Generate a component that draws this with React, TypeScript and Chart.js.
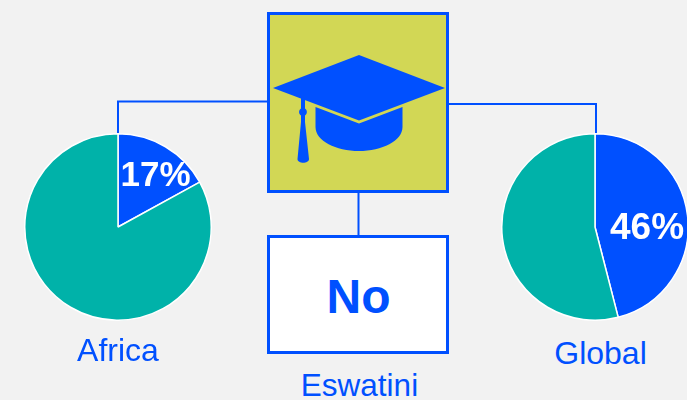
import React, { useEffect, useRef } from "react";
import { Chart, registerables } from "chart.js";

Chart.register(...registerables);

const regions = ["Africa", "Global"];
const africaValues = [17, 83];
const globalValues = [46, 54];
const sliceLabels = ["Yes", "No"];
const countryName = "Eswatini";
const countryAnswer = "No";

const BLUE = "#0050ff";
const TEAL = "#00b2a9";
const YELLOW = "#d2d755";
const BG = "#f2f2f2";
const FONT = '"Liberation Sans", Arial, sans-serif';

const percentLabel = {
  id: "percentLabel",
  afterDatasetsDraw(chart: any, _a: any, opts: any) {
    const arc = chart.getDatasetMeta(0).data[0];
    const value = chart.data.datasets[0].data[0];
    const { ctx } = chart;
    ctx.save();
    ctx.fillStyle = "#ffffff";
    ctx.font = `bold ${opts.size}px ${FONT}`;
    ctx.textAlign = "center";
    ctx.textBaseline = "middle";
    ctx.fillText(`${value}%`, arc.x + opts.dx, arc.y + opts.dy);
    ctx.restore();
  },
};

function Pie({ values, left, dx, dy, size, title }: { values: number[]; left: number; dx: number; dy: number; size: number; title: string }) {
  const ref = useRef<HTMLCanvasElement>(null);
  useEffect(() => {
    const chart = new Chart(ref.current!, {
      type: "pie",
      data: {
        labels: sliceLabels,
        datasets: [{ data: values, backgroundColor: [BLUE, TEAL], borderColor: "#ffffff", borderWidth: 1.5 }],
      },
      options: {
        animation: false,
        responsive: false,
        layout: { padding: 0 },
        plugins: { legend: { display: false }, tooltip: { enabled: false }, percentLabel: { dx, dy, size } } as any,
      },
      plugins: [percentLabel],
    });
    return () => chart.destroy();
  }, []);
  return (
    <canvas
      ref={ref}
      width={188}
      height={188}
      aria-label={title}
      style={{ position: "absolute", left, top: 133, width: 188, height: 188 }}
    />
  );
}

const textStyle = (cx: number, cy: number, size: number): React.CSSProperties => ({
  position: "absolute",
  left: cx - 100,
  width: 200,
  top: cy - 30,
  height: 60,
  lineHeight: "60px",
  textAlign: "center",
  fontFamily: FONT,
  fontSize: size,
  color: BLUE,
});

export default function App() {
  useEffect(() => {
    document.body.style.margin = "0";
    document.body.style.overflow = "hidden";
  }, []);
  return (
    <div style={{ position: "relative", width: 687, height: 400, background: BG, overflow: "hidden" }}>
      <svg width={687} height={400} style={{ position: "absolute", left: 0, top: 0 }}>
        <g fill="none" stroke={BLUE} strokeWidth={2}>
          <path d="M268 101.500H118V134" />
          <path d="M448 104H596V134" />
          <path d="M358.500 193V236" />
        </g>
        <rect x={268.5} y={13.5} width={179} height={178} fill={YELLOW} stroke={BLUE} strokeWidth={3} />
        <rect x={268.5} y={236.5} width={179} height={116} fill="#ffffff" stroke={BLUE} strokeWidth={3} />
        <g fill={BLUE}>
          <path d="M359 55L445 88L359 120.500L273 88Z" />
          <path d="M315.500 107L359 123.500L402.500 107V127C402.500 141 382 151 359 151C336 151 315.500 141 315.500 127Z" />
          <path d="M301 97L305 98.500V108.500C307.500 110 307.500 114 305 115.500V122L309 159C309 164 297.500 164 297.500 159L301 122V115.500C298.500 114 298.500 110 301 108.500Z" />
        </g>
      </svg>
      <Pie values={africaValues} left={24} dx={37.5} dy={-51} size={35} title={regions[0]} />
      <Pie values={globalValues} left={501} dx={52} dy={2} size={37} title={regions[1]} />
      <div style={textStyle(118, 350, 32)}>{regions[0]}</div>
      <div style={textStyle(600.5, 353, 32)}>{regions[1]}</div>
      <div style={textStyle(359.5, 385, 31.5)}>{countryName}</div>
      <div style={{ ...textStyle(358.5, 297, 48), fontWeight: 700 }}>{countryAnswer}</div>
    </div>
  );
}
